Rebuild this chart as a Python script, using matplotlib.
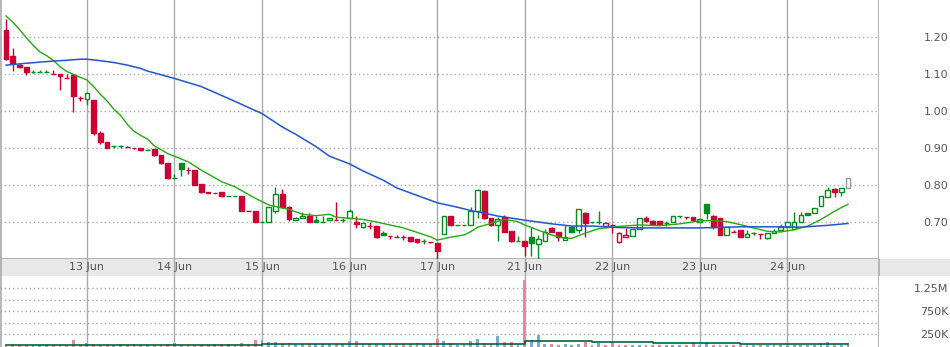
import matplotlib
matplotlib.use("Agg")
import matplotlib.pyplot as plt
from matplotlib.ticker import FixedLocator

# half-hour bars, 13 per day; bar 1 is the first bar drawn
day_labels = ["13 Jun", "14 Jun", "15 Jun", "16 Jun", "17 Jun",
              "21 Jun", "22 Jun", "23 Jun", "24 Jun"]
day_starts = [13, 26, 39, 52, 65, 78, 91, 104, 117]

opens = [1.220, 1.149, 1.123, 1.119, 1.106, 1.106, 1.106, 1.100, 1.100, 1.089,
         1.096, 1.035, 1.033, 1.030, 0.940, 0.915, 0.905, 0.905, 0.904, 0.901,
         0.899, 0.895, 0.897, 0.881, 0.859, 0.819, 0.859, 0.840, 0.840, 0.803,
         0.780, 0.779, 0.782, 0.769, 0.769, 0.770, 0.730, 0.730, 0.700, 0.700,
         0.730, 0.775, 0.740, 0.705, 0.710, 0.716, 0.705, 0.701, 0.705, 0.706,
         0.706, 0.711, 0.700, 0.686, 0.690, 0.689, 0.670, 0.663, 0.660, 0.659,
         0.660, 0.654, 0.648, 0.646, 0.643, 0.668, 0.716, 0.692, 0.692, 0.692,
         0.729, 0.784, 0.711, 0.692, 0.714, 0.676, 0.649, 0.649, 0.659, 0.640,
         0.649, 0.683, 0.672, 0.651, 0.687, 0.678, 0.723, 0.699, 0.699, 0.690,
         0.692, 0.647, 0.659, 0.663, 0.681, 0.712, 0.703, 0.703, 0.696, 0.700,
         0.715, 0.714, 0.713, 0.701, 0.748, 0.716, 0.710, 0.664, 0.674, 0.678,
         0.659, 0.669, 0.668, 0.658, 0.669, 0.678, 0.686, 0.680, 0.699, 0.725,
         0.724, 0.744, 0.768, 0.788, 0.782, 0.791]
highs = [1.250, 1.170, 1.129, 1.119, 1.111, 1.111, 1.110, 1.111, 1.100, 1.100,
         1.096, 1.040, 1.048, 1.030, 0.945, 0.915, 0.905, 0.909, 0.906, 0.901,
         0.899, 0.897, 0.897, 0.881, 0.859, 0.830, 0.859, 0.849, 0.840, 0.803,
         0.780, 0.779, 0.782, 0.769, 0.769, 0.770, 0.730, 0.730, 0.700, 0.741,
         0.794, 0.790, 0.743, 0.714, 0.728, 0.725, 0.715, 0.715, 0.711, 0.755,
         0.710, 0.735, 0.715, 0.696, 0.700, 0.689, 0.675, 0.663, 0.665, 0.665,
         0.660, 0.654, 0.655, 0.646, 0.643, 0.716, 0.716, 0.692, 0.692, 0.741,
         0.789, 0.786, 0.711, 0.714, 0.718, 0.676, 0.662, 0.649, 0.687, 0.664,
         0.681, 0.686, 0.672, 0.692, 0.690, 0.736, 0.728, 0.699, 0.730, 0.699,
         0.693, 0.674, 0.685, 0.681, 0.710, 0.715, 0.706, 0.703, 0.702, 0.715,
         0.715, 0.714, 0.713, 0.707, 0.748, 0.720, 0.710, 0.687, 0.679, 0.678,
         0.678, 0.673, 0.668, 0.669, 0.680, 0.694, 0.699, 0.726, 0.726, 0.725,
         0.737, 0.770, 0.794, 0.791, 0.791, 0.820]
lows = [1.138, 1.109, 1.116, 1.098, 1.104, 1.106, 1.106, 1.100, 1.057, 1.089,
        0.998, 1.028, 1.017, 0.935, 0.910, 0.900, 0.900, 0.900, 0.903, 0.898,
        0.893, 0.895, 0.879, 0.857, 0.816, 0.819, 0.825, 0.830, 0.799, 0.778,
        0.779, 0.778, 0.768, 0.769, 0.769, 0.729, 0.730, 0.699, 0.700, 0.700,
        0.723, 0.738, 0.703, 0.705, 0.710, 0.700, 0.701, 0.701, 0.705, 0.706,
        0.701, 0.711, 0.684, 0.684, 0.680, 0.657, 0.665, 0.655, 0.660, 0.652,
        0.646, 0.642, 0.640, 0.643, 0.600, 0.668, 0.688, 0.692, 0.692, 0.692,
        0.712, 0.708, 0.688, 0.649, 0.672, 0.646, 0.649, 0.608, 0.608, 0.600,
        0.649, 0.672, 0.648, 0.651, 0.672, 0.671, 0.659, 0.696, 0.695, 0.683,
        0.670, 0.643, 0.659, 0.663, 0.681, 0.700, 0.692, 0.694, 0.690, 0.700,
        0.710, 0.708, 0.703, 0.701, 0.707, 0.681, 0.665, 0.664, 0.672, 0.660,
        0.659, 0.665, 0.653, 0.655, 0.669, 0.678, 0.686, 0.680, 0.699, 0.719,
        0.724, 0.744, 0.768, 0.768, 0.770, 0.791]
closes = [1.140, 1.131, 1.119, 1.106, 1.106, 1.106, 1.106, 1.100, 1.095, 1.089,
          1.040, 1.035, 1.048, 0.940, 0.917, 0.901, 0.905, 0.905, 0.904, 0.899,
          0.894, 0.895, 0.881, 0.859, 0.818, 0.819, 0.844, 0.840, 0.801, 0.780,
          0.779, 0.778, 0.769, 0.769, 0.769, 0.731, 0.730, 0.700, 0.700, 0.741,
          0.775, 0.741, 0.707, 0.712, 0.716, 0.701, 0.701, 0.701, 0.711, 0.706,
          0.706, 0.730, 0.694, 0.696, 0.690, 0.659, 0.665, 0.663, 0.660, 0.659,
          0.650, 0.645, 0.648, 0.646, 0.622, 0.716, 0.692, 0.692, 0.692, 0.730,
          0.786, 0.710, 0.692, 0.707, 0.674, 0.649, 0.649, 0.636, 0.642, 0.653,
          0.674, 0.673, 0.660, 0.660, 0.672, 0.734, 0.696, 0.699, 0.699, 0.696,
          0.692, 0.669, 0.665, 0.681, 0.710, 0.703, 0.695, 0.694, 0.696, 0.715,
          0.715, 0.714, 0.706, 0.707, 0.725, 0.687, 0.665, 0.687, 0.674, 0.660,
          0.667, 0.669, 0.668, 0.669, 0.676, 0.686, 0.699, 0.699, 0.719, 0.720,
          0.737, 0.770, 0.786, 0.780, 0.791, 0.818]
# volume in thousands
volumes = [20, 20, 20, 20, 20, 20, 20, 20, 20, 20,
           126, 20, 61, 40, 20, 40, 20, 40, 20, 40,
           20, 20, 20, 20, 40, 61, 20, 20, 20, 20,
           20, 40, 40, 40, 20, 61, 20, 126, 126, 83,
           83, 30, 61, 30, 30, 30, 30, 30, 30, 30,
           30, 104, 104, 30, 30, 30, 30, 30, 30, 30,
           30, 61, 30, 30, 148, 104, 61, 10, 30, 110,
           148, 61, 46, 213, 83, 83, 25, 1430, 126, 235,
           32, 32, 10, 32, 10, 32, 83, 20, 61, 20,
           61, 20, 20, 20, 20, 20, 10, 10, 10, 20,
           20, 20, 61, 20, 61, 20, 20, 20, 20, 20,
           10, 20, 10, 20, 20, 20, 20, 20, 20, 20,
           20, 61, 83, 20, 20, 61]

ma_fast_idx = [1, 2, 3, 4, 5, 6, 7, 8, 9, 10, 11, 12, 13, 14, 15, 16, 17, 18, 19, 20,
               21, 22, 23, 25, 28, 30, 33, 35, 38, 40, 43, 45, 47, 49, 50, 52, 54, 56,
               58, 60, 62, 64, 65, 67, 69, 70, 71, 73, 75, 77, 78, 80, 82, 84, 85, 87,
               89, 92, 95, 98, 101, 104, 106, 108, 110, 112, 114, 116, 118, 120, 122,
               124, 125, 126]
ma_fast = [1.257, 1.240, 1.220, 1.198, 1.178, 1.160, 1.150, 1.137, 1.120, 1.107,
           1.099, 1.091, 1.084, 1.066, 1.045, 1.027, 1.005, 0.988, 0.964, 0.945,
           0.934, 0.924, 0.906, 0.885, 0.863, 0.840, 0.809, 0.795, 0.764, 0.746,
           0.734, 0.721, 0.717, 0.721, 0.713, 0.710, 0.707, 0.700, 0.692, 0.684,
           0.672, 0.660, 0.651, 0.659, 0.665, 0.674, 0.686, 0.696, 0.707, 0.701,
           0.692, 0.678, 0.665, 0.656, 0.656, 0.670, 0.682, 0.688, 0.692, 0.690,
           0.695, 0.703, 0.704, 0.701, 0.693, 0.684, 0.675, 0.673, 0.679, 0.689,
           0.707, 0.729, 0.739, 0.748]
ma_slow_idx = [1, 4, 6, 8, 10, 12, 13, 15, 17, 19, 21, 22, 26, 30, 34, 39, 42, 44, 47,
               49, 52, 54, 57, 59, 62, 65, 68, 70, 72, 74, 78, 82, 85, 88, 92, 96, 104,
               110, 116, 119, 123, 126]
ma_slow = [1.124, 1.129, 1.132, 1.135, 1.137, 1.140, 1.140, 1.136, 1.131, 1.124,
           1.115, 1.108, 1.088, 1.066, 1.034, 0.993, 0.957, 0.937, 0.904, 0.878,
           0.857, 0.838, 0.813, 0.792, 0.772, 0.752, 0.740, 0.731, 0.724, 0.716,
           0.705, 0.695, 0.689, 0.689, 0.685, 0.684, 0.684, 0.687, 0.687, 0.686,
           0.691, 0.696]
# volume average, stepped (start bar, level in thousands)
vol_ma_starts = [1, 39, 73, 78, 88, 97, 110]
vol_ma_levels = [10, 33, 46, 104, 83, 61, 33]

price_ticks = [0.70, 0.80, 0.90, 1.00, 1.10, 1.20]
vol_grid = [250, 500, 750, 1000, 1250]
vol_ticks = [250, 750, 1250]
vol_tick_labels = ["250K", "750K", "1.25M"]

RED = "#cc0033"
GREEN = "#008c1e"
GRID = "#aaaaaa"
TXT = "#555555"
XMIN, XMAX = 0.1, 130.6
VMIN = -26000

fig = plt.figure(figsize=(9.5, 3.47), dpi=100)
ax = fig.add_axes([0.0, 88 / 347, 879 / 950, 259 / 347])
band = fig.add_axes([0.0, 71 / 347, 1.0, 17 / 347])
axv = fig.add_axes([0.0, 0.0, 879 / 950, 71 / 347])

# candles
bars = list(range(1, len(closes) + 1))
colors = []
for i, (o, c) in enumerate(zip(opens, closes)):
    prev = closes[i - 1] if i > 0 else o
    colors.append(GREEN if c >= prev else RED)
colors[-1] = "#999999"

for x, o, h, l, c, col in zip(bars, opens, highs, lows, closes, colors):
    ax.vlines(x, l, h, color=col, lw=1, zorder=3)
    lo, hi = min(o, c), max(o, c)
    hollow = c > o
    ax.bar(x, hi - lo, bottom=lo, width=0.7,
           facecolor="white" if hollow else col, edgecolor=col,
           linewidth=1, zorder=4)

ax.plot(ma_fast_idx, ma_fast, color="#22aa11", lw=1, zorder=5)
ax.plot(ma_slow_idx, ma_slow, color="#2255cc", lw=1.1, zorder=5)

ax.set_xlim(XMIN, XMAX)
ax.set_ylim(0.60, 1.30)
for p in price_ticks:
    ax.axhline(p, color=GRID, lw=1, ls=(0, (1, 2)), zorder=1)
ax.yaxis.tick_right()
ax.set_yticks(price_ticks)
ax.set_yticklabels([f"{p:.2f}" for p in price_ticks])
ax.tick_params(axis="y", length=0, pad=50, labelsize=8, labelcolor=TXT)
for t in ax.get_yticklabels():
    t.set_horizontalalignment("right")
ax.set_xticks([])

# volume panel
vcols = ["#e8879f" if c == RED else "#7ea8d4" for c in colors]
vcols[-1] = "#999999"
axv.bar(bars, [v * 1000 - VMIN for v in volumes], bottom=VMIN, width=0.42,
        color=vcols, linewidth=0, antialiased=False, zorder=3)
step_x = vol_ma_starts + [bars[-1]]
step_y = [v * 1000 for v in vol_ma_levels] + [vol_ma_levels[-1] * 1000]
axv.step(step_x, step_y, where="post", color="#006633", lw=1.2, zorder=4)
axv.set_xlim(XMIN, XMAX)
axv.set_ylim(VMIN, 1520000)
for v in vol_grid:
    axv.axhline(v * 1000, color=GRID, lw=1, ls=(0, (1, 2)), zorder=1)
axv.yaxis.tick_right()
axv.yaxis.set_major_locator(FixedLocator([v * 1000 for v in vol_ticks]))
axv.set_yticklabels(vol_tick_labels)
axv.tick_params(axis="y", length=0, pad=50, labelsize=8, labelcolor=TXT)
for t in axv.get_yticklabels():
    t.set_horizontalalignment("right")
axv.set_xticks([])

# date band
band.set_facecolor("#e8e8e8")
band.set_xlim(XMIN, XMIN + (XMAX - XMIN) * 950 / 879)
band.set_ylim(0, 1)
band.set_xticks([])
band.set_yticks([])
for lab, d in zip(day_labels, day_starts):
    band.text(d, 0.5, lab, ha="center", va="center", fontsize=8, color=TXT)

for a in (ax, band, axv):
    for s in a.spines.values():
        s.set_visible(False)
    for d in day_starts:
        a.axvline(d, color=GRID, lw=1, zorder=2)
    a.axvline(XMIN + 0.2, color=GRID, lw=1.2, zorder=2)
    a.axvline(XMAX - 0.05, color=GRID, lw=1.2, zorder=2)
ax.axhline(0.6, color=GRID, lw=2, zorder=2)

fig.savefig("out.png", dpi=100)
